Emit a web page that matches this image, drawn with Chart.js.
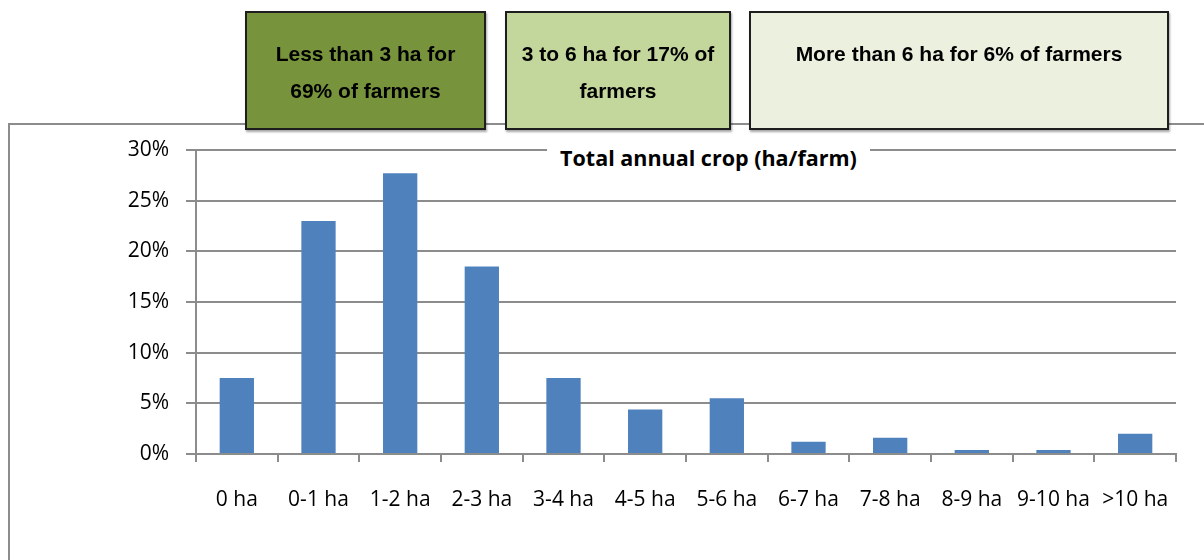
<!DOCTYPE html>
<html>
<head>
<meta charset="utf-8">
<script src="https://cdn.jsdelivr.net/npm/chart.js"></script>
<style>
  body { margin: 0; background: #fff; }
  #wrap { position: relative; width: 1204px; height: 560px; overflow: hidden; }
  #frame { position: absolute; left: 8px; top: 123px; width: 1300px; height: 500px;
           border-left: 2px solid #8c8c8c; border-top: 2px solid #8c8c8c; }
  #myChart { position: absolute; left: 0; top: 0; }
  #chartTitle { position: absolute; left: 547px; top: 143px; width: 323px; height: 33px;
                background: #fff; text-align: center; line-height: 46px;
                font: bold 21.5px "Open Sans", sans-serif; color: #000; }
  .box { position: absolute; top: 11px; height: 119px; box-sizing: border-box;
         border: 2px solid #1e1e1e; text-align: center; padding-top: 22px;
         font: bold 21px "Liberation Sans", Arial, sans-serif; line-height: 37px; color: #000;
         box-shadow: 1px 2px 2px rgba(0,0,0,0.35); }
</style>
</head>
<body>
<div id="wrap">
  <div id="frame"></div>
  <canvas id="myChart" width="1204" height="560"></canvas>
  <div id="chartTitle">Total annual crop (ha/farm)</div>
  <div class="box" style="left:245px; width:241px; background:#77933c;">Less than 3 ha for<br>69% of farmers</div>
  <div class="box" style="left:505px; width:226px; background:#c3d69b;">3 to 6 ha for 17% of<br>farmers</div>
  <div class="box" style="left:749px; width:420px; background:#ebf1de;">More than 6 ha for 6% of farmers</div>
</div>
<script>
'use strict';

// farm size classes and share of farms (%)
var categories = ["0 ha", "0-1 ha", "1-2 ha", "2-3 ha", "3-4 ha", "4-5 ha", "5-6 ha", "6-7 ha", "7-8 ha", "8-9 ha", "9-10 ha", ">10 ha"];
var shares = [7.5, 23.0, 27.7, 18.5, 7.5, 4.4, 5.5, 1.2, 1.6, 0.4, 0.4, 2.0];
var yTicks = [0, 5, 10, 15, 20, 25, 30];

var gridColor = '#8c8c8c';
var tickFont = { family: 'Open Sans', size: 21 };

var ctx = document.getElementById("myChart");
var myChart = new Chart(ctx, {
  type: 'bar',
  data: {
    labels: categories,
    datasets: [{
      data: shares,
      backgroundColor: '#4f81bd',
      borderWidth: 0,
      barPercentage: 0.42,
      categoryPercentage: 1
    }]
  },
  options: {
    responsive: false,
    animation: false,
    devicePixelRatio: 1,
    layout: {
      padding: { left: 0, top: 150, right: 28, bottom: 0 }
    },
    plugins: {
      legend: { display: false },
      tooltip: { enabled: false },
      title: { display: false }
    },
    scales: {
      x: {
        afterFit: function (scale) { scale.height = 106; },
        grid: {
          offset: true,
          drawOnChartArea: false,
          drawTicks: true,
          tickLength: 8,
          color: gridColor,
          lineWidth: 2
        },
        border: { color: gridColor, width: 2 },
        ticks: {
          color: '#000',
          font: tickFont,
          padding: 25,
          maxRotation: 0,
          autoSkip: false
        }
      },
      y: {
        min: 0,
        max: 30,
        afterFit: function (scale) { scale.width = 196; },
        afterBuildTicks: function (scale) {
          scale.ticks = yTicks.map(function (v) { return { value: v }; });
        },
        grid: {
          color: gridColor,
          lineWidth: 2,
          tickLength: 10
        },
        border: { color: gridColor, width: 2 },
        ticks: {
          color: '#000',
          font: tickFont,
          padding: 17,
          callback: function (v) { return v + '%'; }
        }
      }
    }
  }
});
</script>
</body>
</html>
